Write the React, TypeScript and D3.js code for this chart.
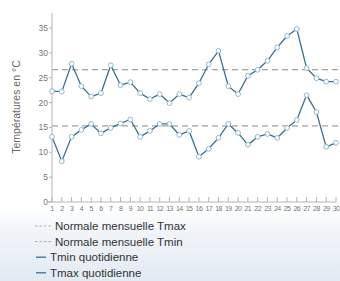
import React from 'react';
import * as d3 from 'd3';

const days = d3.range(1, 31);
const tmax = [22.3, 22.2, 27.8, 23.3, 21.2, 21.9, 27.5, 23.5, 24.1, 21.9, 20.7, 21.7, 19.9, 21.7, 21.0, 23.9, 27.7, 30.4, 23.3, 21.7, 25.4, 26.6, 28.4, 31.1, 33.4, 34.8, 26.9, 24.9, 24.2, 24.2];
const tmin = [13.1, 8.2, 13.1, 14.5, 15.7, 13.8, 14.9, 15.8, 16.6, 13.1, 14.3, 15.7, 15.7, 13.5, 14.3, 9.1, 10.7, 12.9, 15.7, 13.9, 11.5, 13.1, 13.7, 12.9, 14.9, 16.5, 21.5, 18.1, 11.1, 11.9];
const normaleTmax = 26.6;
const normaleTmin = 15.3;
const yTicks = [0, 5, 10, 15, 20, 25, 30, 35];
const legendItems = [
  { label: 'Normale mensuelle Tmax', dashed: true },
  { label: 'Normale mensuelle Tmin', dashed: true },
  { label: 'Tmin quotidienne', dashed: false },
  { label: 'Tmax quotidienne', dashed: false },
];

const W = 340;
const H = 281;
const margin = { left: 52, right: 4, top: 13, bottom: 79 };
const lineColor = '#3b6f8e';
const markColor = '#8fb8d3';
const font = '"Liberation Sans", Arial, sans-serif';

export default function App() {
  const x = d3.scaleLinear().domain([1, 30]).range([margin.left, 336]);
  const y = d3.scaleLinear().domain([0, 35]).range([202, 28]);
  const line = d3
    .line<number>()
    .x((_, i) => x(days[i]))
    .y((d) => y(d));

  const series = [tmax, tmin];

  return (
    <svg
      width={W}
      height={H}
      style={{ position: 'absolute', left: 0, top: 0, fontFamily: font }}
    >
      <defs>
        <linearGradient id='bg' x1='0' y1='0' x2='0' y2='1'>
          <stop offset='0' stopColor='#ffffff' />
          <stop offset='0.74' stopColor='#ffffff' />
          <stop offset='0.82' stopColor='#f1f5f9' />
          <stop offset='1' stopColor='#e2eaf3' />
        </linearGradient>
      </defs>
      <rect width={W} height={H} fill='url(#bg)' />

      {/* normales */}
      {[normaleTmax, normaleTmin].map((v, i) => (
        <line
          key={i}
          x1={margin.left}
          x2={W}
          y1={y(v)}
          y2={y(v)}
          stroke='#8a8a8a'
          strokeWidth={1}
          strokeDasharray='6,4'
        />
      ))}

      {/* axes */}
      <line x1={margin.left} x2={margin.left} y1={margin.top} y2={y(0)} stroke='#b5b5b5' />
      <line x1={margin.left - 4} x2={x(30)} y1={y(0)} y2={y(0)} stroke='#b5b5b5' />
      {yTicks.map((t) => (
        <g key={t}>
          <line x1={margin.left - 3} x2={margin.left} y1={y(t)} y2={y(t)} stroke='#b5b5b5' />
          <text
            x={margin.left - 4}
            y={y(t)}
            dy='0.35em'
            textAnchor='end'
            fontSize={8.5}
            fill='#777'
          >
            {t}
          </text>
        </g>
      ))}
      {days.map((d) => (
        <g key={d}>
          <line x1={x(d)} x2={x(d)} y1={y(0) - 5} y2={y(0)} stroke='#b5b5b5' />
          <text
            x={x(d)}
            y={y(0) + 9}
            textAnchor='middle'
            fontSize={7}
            letterSpacing={-0.6}
            fill='#777'
          >
            {d}
          </text>
        </g>
      ))}
      <text
        transform={`translate(20,${107}) rotate(-90)`}
        textAnchor='middle'
        fontSize={10.5}
        fill='#666'
      >
        Températures en °C
      </text>

      {/* séries */}
      {series.map((s, k) => (
        <g key={k}>
          <path d={line(s) || ''} fill='none' stroke={lineColor} strokeWidth={1.3} />
          {s.map((v, i) => (
            <circle
              key={i}
              cx={x(days[i])}
              cy={y(v)}
              r={2.4}
              fill='#ffffff'
              stroke={markColor}
              strokeWidth={1}
            />
          ))}
        </g>
      ))}

      {/* légende */}
      {legendItems.map((item, i) => {
        const ly = 226 + i * 15.6;
        return (
          <g key={item.label}>
            <line
              x1={item.dashed ? 35 : 36}
              x2={item.dashed ? 52 : 46}
              y1={ly}
              y2={ly}
              stroke={item.dashed ? '#b0b0b0' : lineColor}
              strokeWidth={item.dashed ? 1 : 1.3}
              strokeDasharray={item.dashed ? '2.5,2' : undefined}
            />
            <text x={item.dashed ? 55 : 50} y={ly} dy='0.35em' fontSize={11.5} fill='#333'>
              {item.label}
            </text>
          </g>
        );
      })}
    </svg>
  );
}
